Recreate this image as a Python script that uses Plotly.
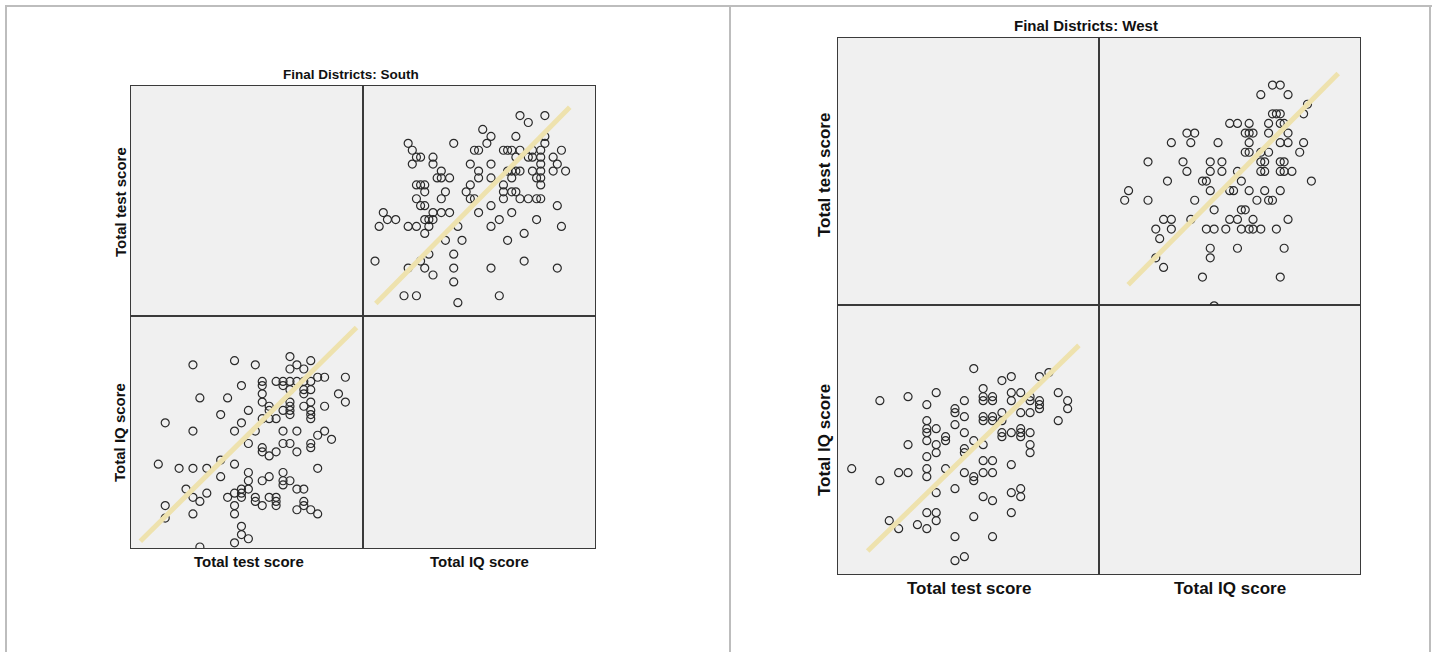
import plotly.graph_objects as go

# ---------------- data ----------------
south_test = [15, 21, 24, 29, 32, 30, 29, 31, 33, 34,
              37, 25, 25, 27, 28, 28, 29, 30, 31, 32,
              22, 29, 31, 32, 31, 25, 36, 16, 20, 25,
              29, 32, 37, 26, 29, 31, 34, 28, 29, 32,
              23, 26, 19, 29, 32, 25, 26, 27, 32, 11,
              22, 15, 21, 24, 28, 30, 34, 33, 35, 23,
              28, 29, 32, 32, 25, 25, 27, 30, 26, 10,
              13, 15, 17, 19, 21, 33, 23, 28, 19, 26,
              23, 25, 28, 29, 28, 14, 22, 23, 30, 31,
              17, 21, 22, 15, 20, 22, 24, 26, 27, 16,
              24, 27, 31, 31, 11, 21, 25, 27, 30, 32,
              33, 15, 21, 11, 22, 22, 23, 21, 16]
south_iq = [124, 125, 124, 126, 125, 124, 123, 123, 121, 121,
            121, 120, 119, 120, 120, 119, 120, 120, 120, 120,
            119, 118, 118, 118, 117, 117, 117, 116, 116, 115,
            115, 115, 115, 114, 114, 114, 114, 113, 113, 113,
            113, 113, 112, 112, 112, 111, 111, 111, 111, 110,
            110, 108, 108, 108, 108, 108, 108, 107, 106, 105,
            105, 105, 105, 104, 104, 103, 103, 103, 102, 100,
            99, 99, 99, 101, 100, 99, 98, 98, 97, 97,
            96, 96, 96, 96, 95, 94, 94, 94, 94, 94,
            93, 93, 93, 92, 92, 92, 92, 92, 92, 91,
            91, 91, 91, 90, 90, 90, 90, 90, 89, 89,
            88, 88, 88, 87, 85, 83, 82, 81, 80]

west_test = [25, 28, 29, 32, 33, 26, 15, 18, 21, 20,
             24, 26, 26, 27, 27, 29, 30, 29, 31, 31,
             32, 32, 32, 34, 35, 35, 23, 23, 24, 26,
             26, 27, 27, 28, 28, 30, 31, 34, 20, 23,
             20, 21, 20, 24, 22, 28, 29, 30, 30, 31,
             20, 21, 22, 18, 25, 24, 24, 26, 28, 30,
             31, 31, 20, 21, 26, 27, 29, 12, 15, 17,
             18, 20, 20, 22, 24, 25, 25, 26, 27, 23,
             21, 26, 27, 29, 30, 30, 20, 21, 21, 16,
             17, 19, 20, 25, 29, 23, 27, 23, 24]
west_iq = [126, 123, 124, 124, 125, 121, 118, 119, 120, 117,
           118, 119, 118, 119, 118, 120, 120, 118, 119, 118,
           118, 117, 116, 120, 118, 116, 116, 115, 114, 114,
           113, 114, 113, 115, 113, 115, 115, 113, 113, 112,
           111, 111, 110, 110, 109, 110, 110, 111, 110, 110,
           108, 107, 108, 107, 108, 106, 105, 107, 109, 109,
           107, 105, 104, 105, 103, 103, 102, 101, 98, 100,
           100, 101, 99, 101, 100, 99, 98, 100, 100, 96,
           95, 94, 93, 95, 96, 94, 90, 90, 88, 88,
           86, 87, 86, 89, 90, 84, 84, 78, 79]

# fit lines as drawn in each panel (endpoints in data units)
south_fit_ll_test = [7.4, 38.6]
south_fit_ll_iq = [81.4, 133.0]
south_fit_ur_iq = [80.2, 127.0]
south_fit_ur_test = [9.9, 38.2]
west_fit_ll_test = [13.7, 36.2]
west_fit_ll_iq = [80.4, 131.8]
west_fit_ur_iq = [78.9, 132.9]
west_fit_ur_test = [14.2, 36.2]

var_labels = ["Total test score", "Total IQ score"]
titles = ["Final Districts: South", "Final Districts: West"]

# ---------------- layout helpers ----------------
W, H = 1432, 652
FONT = "Liberation Sans, Arial, sans-serif"
LINE_COLOR = "#EEE2AE"
MARK_COLOR = "#2a2a2a"
BORDER = "#3a3a3a"


def px_x(v):
    return v / W


def px_y(v):
    return 1 - v / H


fig = go.Figure()
layout = {}
axis_idx = [0]


def add_panel(x0, x1, y0, y1, xr, yr):
    axis_idx[0] += 1
    i = axis_idx[0]
    xn = "xaxis" if i == 1 else f"xaxis{i}"
    yn = "yaxis" if i == 1 else f"yaxis{i}"
    xref = "x" if i == 1 else f"x{i}"
    yref = "y" if i == 1 else f"y{i}"
    common = dict(showgrid=False, zeroline=False, showticklabels=False,
                  ticks="", showline=True, mirror=True, linecolor=BORDER,
                  linewidth=1.3, fixedrange=True)
    layout[xn] = dict(domain=[px_x(x0), px_x(x1)], range=xr, anchor=yref, **common)
    layout[yn] = dict(domain=[px_y(y1), px_y(y0)], range=yr, anchor=xref, **common)
    return xref, yref


def add_points(xref, yref, xs, ys):
    fig.add_trace(go.Scatter(
        x=xs, y=ys, xaxis=xref, yaxis=yref, mode="markers",
        marker=dict(symbol="circle-open", size=8, color=MARK_COLOR,
                    line=dict(width=1.2, color=MARK_COLOR)),
        showlegend=False, hoverinfo="skip"))


def add_line(xref, yref, xs, ys):
    fig.add_trace(go.Scatter(
        x=xs, y=ys, xaxis=xref, yaxis=yref, mode="lines",
        line=dict(color=LINE_COLOR, width=5),
        showlegend=False, hoverinfo="skip"))


def add_empty(xref, yref):
    fig.add_trace(go.Scatter(x=[None], y=[None], xaxis=xref, yaxis=yref,
                             mode="markers", showlegend=False, hoverinfo="skip"))


# ---- South matrix ----
sx0, sxm, sx1 = 131, 363, 595
sy0, sym, sy1 = 86, 316, 548
xr, yr = add_panel(sx0, sxm, sy0, sym, [0, 1], [0, 1])
add_empty(xr, yr)
xr, yr = add_panel(sxm, sx1, sym, sy1, [0, 1], [0, 1])
add_empty(xr, yr)
xr, yr = add_panel(sxm, sx1, sy0, sym, [77.1, 133.1], [8.08, 41.27])
add_points(xr, yr, south_iq, south_test)
add_line(xr, yr, south_fit_ur_iq, south_fit_ur_test)
xr, yr = add_panel(sx0, sxm, sym, sy1, [6.06, 39.54], [79.76, 135.8])
add_points(xr, yr, south_test, south_iq)
add_line(xr, yr, south_fit_ll_test, south_fit_ll_iq)

# ---- West matrix ----
wx0, wxm, wx1 = 838, 1099, 1360
wy0, wym, wy1 = 38, 305, 574
xr, yr = add_panel(wx0, wxm, wy0, wym, [0, 1], [0, 1])
add_empty(xr, yr)
xr, yr = add_panel(wxm, wx1, wym, wy1, [0, 1], [0, 1])
add_empty(xr, yr)
xr, yr = add_panel(wxm, wx1, wy0, wym, [71.4, 138.5], [12.09, 39.9])
add_points(xr, yr, west_iq, west_test)
add_line(xr, yr, west_fit_ur_iq, west_fit_ur_test)
xr, yr = add_panel(wx0, wxm, wym, wy1, [10.54, 38.34], [74.67, 141.9])
add_points(xr, yr, west_test, west_iq)
add_line(xr, yr, west_fit_ll_test, west_fit_ll_iq)

# ---------------- text ----------------
annotations = []


def text(x, y, s, size, angle=0):
    annotations.append(dict(x=px_x(x), y=px_y(y), xref="paper", yref="paper",
                            text=f"<b>{s}</b>", showarrow=False, textangle=angle,
                            xanchor="center", yanchor="middle",
                            font=dict(family=FONT, size=size, color="#111111")))


text(351, 74, titles[0], 13.5)
text(120, 202, var_labels[0], 15, -90)
text(120, 432, var_labels[1], 15, -90)
text(249, 561, var_labels[0], 15)
text(480, 561, var_labels[1], 15)

text(1086, 25, titles[1], 15)
text(824, 175, var_labels[0], 17, -90)
text(824, 440, var_labels[1], 17, -90)
text(969, 588, var_labels[0], 17)
text(1230, 588, var_labels[1], 17)

# page frame lines
frame = "#BDBDBD"
shapes = [
    dict(type="line", xref="paper", yref="paper", x0=px_x(5), x1=px_x(W),
         y0=px_y(6), y1=px_y(6), line=dict(color=frame, width=2)),
    dict(type="line", xref="paper", yref="paper", x0=px_x(6), x1=px_x(6),
         y0=px_y(5), y1=px_y(H), line=dict(color=frame, width=2)),
    dict(type="line", xref="paper", yref="paper", x0=px_x(730), x1=px_x(730),
         y0=px_y(5), y1=px_y(H), line=dict(color=frame, width=2)),
    dict(type="line", xref="paper", yref="paper", x0=px_x(1430), x1=px_x(1430),
         y0=px_y(5), y1=px_y(H), line=dict(color=frame, width=2)),
]

fig.update_layout(
    width=W, height=H,
    margin=dict(l=0, r=0, t=0, b=0),
    paper_bgcolor="white", plot_bgcolor="#F0F0F0",
    annotations=annotations, shapes=shapes,
    showlegend=False,
    **layout,
)

fig.write_html(
    "out.html",
    config={"displayModeBar": False},
    post_script="document.body.style.margin='0px';document.body.style.overflow='hidden';",
)
